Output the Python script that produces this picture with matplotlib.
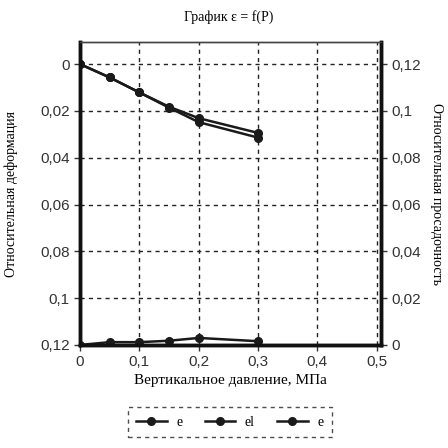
import matplotlib
matplotlib.use('Agg')
import matplotlib.pyplot as plt
from matplotlib.ticker import FuncFormatter

# данные
P = [0, 0.05, 0.1, 0.15, 0.2, 0.3]
e = [0, 0.0057, 0.0121, 0.0182, 0.0231, 0.0294]
el = [0, 0.0057, 0.0121, 0.0186, 0.0248, 0.0314]
e_pr = [0, 0.0012, 0.0012, 0.0018, 0.0030, 0.0016]

x_ticks = [0, 0.1, 0.2, 0.3, 0.4, 0.5]
y_ticks = [0, 0.02, 0.04, 0.06, 0.08, 0.1, 0.12]

plt.rcParams['font.family'] = ['Liberation Sans', 'DejaVu Sans']


def comma(v, pos):
    s = ('%.2f' % v).rstrip('0').rstrip('.')
    return s.replace('.', ',')


fig = plt.figure(figsize=(4.48, 4.48), dpi=100)
ax = fig.add_axes([0.1786, 0.23, 0.6714, 0.676])
ax2 = ax.twinx()

ax.plot(P, e, color='#1a1a1a', lw=1.8, marker='o', ms=5.5, label='e')
ax.plot(P, el, color='#1a1a1a', lw=1.8, marker='o', ms=5.5, label='el')
ax2.plot(P, e_pr, color='#1a1a1a', lw=1.8, marker='o', ms=5.5, label='e')

ax.set_xlim(0, 0.507)
ax.set_ylim(0.12, -0.0094)
ax2.set_ylim(0, 0.1294)

ax.set_xticks(x_ticks)
ax.set_yticks(y_ticks)
ax2.set_yticks(y_ticks)
ax.xaxis.set_major_formatter(FuncFormatter(comma))
ax.yaxis.set_major_formatter(FuncFormatter(comma))
ax2.yaxis.set_major_formatter(FuncFormatter(comma))

for a in (ax, ax2):
    a.tick_params(labelsize=11, length=4, width=1, colors='#333333')
    for side in ('left', 'right', 'bottom'):
        a.spines[side].set_linewidth(2.5)
        a.spines[side].set_color('#111111')
    a.spines['top'].set_linewidth(1)
    a.spines['top'].set_color('#444444')

ax.grid(True, color='#222222', linestyle=(0, (3, 3)), lw=1)

ax.set_xlabel('Вертикальное давление, МПа', family='Liberation Serif', fontsize=11, labelpad=3)
ax.set_ylabel('Относительная деформация', family='Liberation Serif', fontsize=10, labelpad=16)
ax2.set_ylabel('Относительная просадочность', family='Liberation Serif', fontsize=10,
               rotation=-90, labelpad=16)
fig.text(0.51, 0.962, 'График ε = f(P)', family='Liberation Serif', fontsize=10,
         ha='center', va='center')

h1, l1 = ax.get_legend_handles_labels()
h2, l2 = ax2.get_legend_handles_labels()
leg = fig.legend(h1 + h2, l1 + l2, loc='center', bbox_to_anchor=(0.513, 0.058), ncol=3,
                 fancybox=False, prop={'family': 'Liberation Serif', 'size': 10},
                 handlelength=2.2, handletextpad=0.7, columnspacing=1.6, borderpad=0.6)
leg.get_frame().set_edgecolor('#222222')
leg.get_frame().set_linestyle((0, (3, 3)))
leg.get_frame().set_linewidth(1)

fig.savefig('out.png', dpi=100)
